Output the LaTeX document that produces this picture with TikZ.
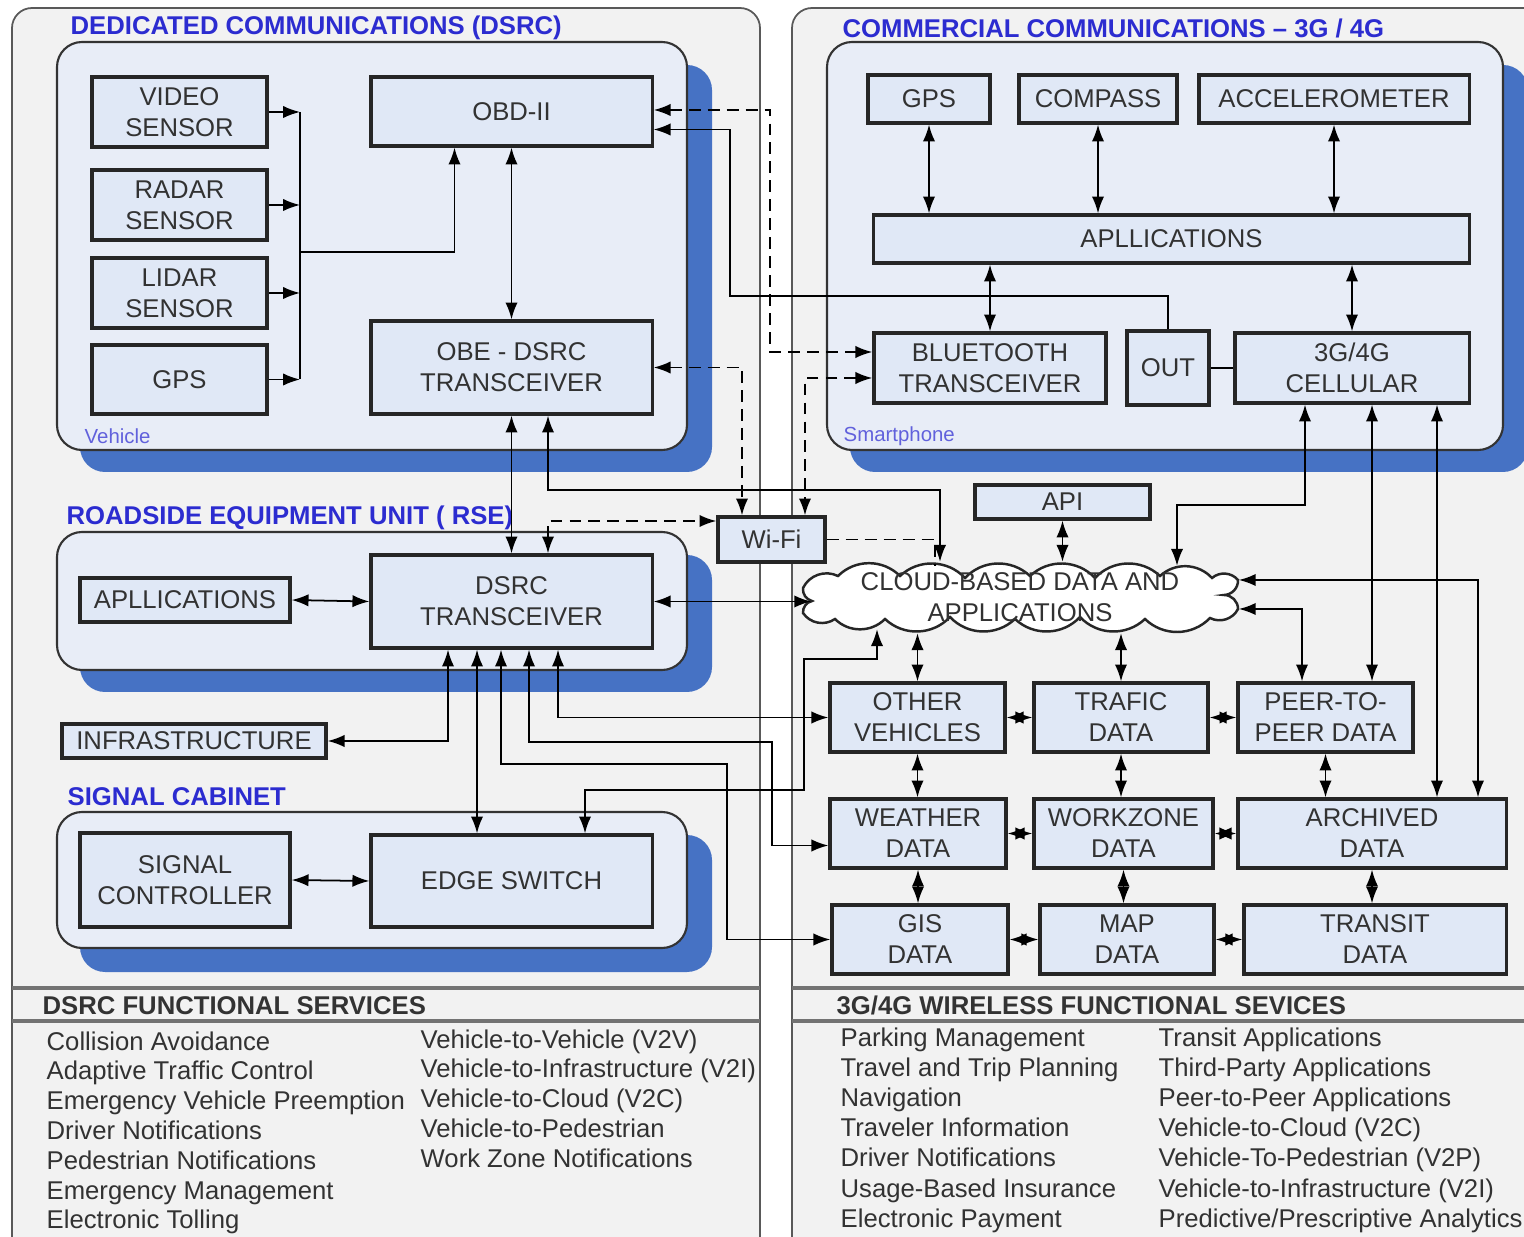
\documentclass[tikz,border=0pt]{standalone}
\usepackage{fontspec}
\setmainfont{Liberation Sans}
\usetikzlibrary{arrows.meta,positioning,calc}

\definecolor{panelgray}{RGB}{242,242,242}
\definecolor{groupblue}{RGB}{232,237,247}
\definecolor{boxblue}{RGB}{224,232,246}
\definecolor{shadowblue}{RGB}{70,114,196}
\definecolor{titleblue}{RGB}{44,44,208}
\definecolor{inkgray}{RGB}{50,50,50}

\tikzset{
  >={Latex[length=4.8pt,width=3.5pt]},
  panel/.style={draw=black!65, fill=panelgray, line width=0.5pt, rounded corners=0.2cm},
  group/.style={draw=black!80, fill=groupblue, line width=0.6pt, rounded corners=0.25cm},
  groupshadow/.style={fill=shadowblue, rounded corners=0.25cm},
  box/.style={draw=black!85, fill=boxblue, line width=0.9pt, align=center, inner sep=0pt,
    text=inkgray, font=\fontsize{7.3}{8.8}\selectfont},
  cloudline/.style={draw=black!85, fill=white, line width=0.7pt},
  grouptitle/.style={anchor=west, inner sep=0pt, text=titleblue, font=\bfseries\fontsize{7.3}{8.8}\selectfont},
  grouptag/.style={anchor=west, inner sep=0pt, text=titleblue!75, font=\fontsize{5.8}{7}\selectfont},
  servicehead/.style={anchor=base west, inner sep=0pt, text=black!80, font=\bfseries\fontsize{7.3}{8.8}\selectfont},
  service/.style={anchor=base west, inner sep=0pt, text=inkgray, font=\fontsize{7.3}{8.8}\selectfont},
  sepline/.style={draw=black!55, line width=1.1pt},
  line/.style={line width=0.5pt},
  feed/.style={line width=0.5pt, ->},
  conn/.style={line width=0.5pt, <->},
  wire/.style={line width=0.55pt, dash pattern=on 3.4pt off 2pt},
}

\begin{document}
\begin{tikzpicture}[x=0.01cm,y=-0.01cm]
  \useasboundingbox (0,0) rectangle (1524,1237);

  % panels
  \draw[panel] (12,8) rectangle (760,1290);
  \draw[panel] (792,8) rectangle (1560,1290);

  % groups
  \fill[groupshadow] (80,65) rectangle (712,472);
  \draw[group] (57,42) rectangle (687,450);
  \fill[groupshadow] (80,555) rectangle (712,692);
  \draw[group] (57,532) rectangle (687,670);
  \fill[groupshadow] (80,835) rectangle (712,972);
  \draw[group] (57,812) rectangle (687,948);
  \fill[groupshadow] (850,65) rectangle (1528,472);
  \draw[group] (827,42) rectangle (1503,450);

  \node[grouptitle] (dsrctitle) at (70,28) {DEDICATED COMMUNICATIONS (DSRC)};
  \node[grouptitle] (celltitle) at (842,28) {COMMERCIAL COMMUNICATIONS – 3G / 4G};
  \node[grouptitle] (rsetitle) at (66,518) {ROADSIDE EQUIPMENT UNIT ( RSE)};
  \node[grouptitle] (cabtitle) at (67,797) {SIGNAL CABINET};
  \node[grouptag] (vehtag) at (84,436) {Vehicle};
  \node[grouptag] (phonetag) at (843,436) {Smartphone};

  % vehicle
  \node[box, minimum width=1.75cm, minimum height=0.7cm] (vidsens) at (179.5,112) {VIDEO\\SENSOR};
  \node[box, minimum width=1.75cm, minimum height=0.7cm] (radsens) at (179.5,205) {RADAR\\SENSOR};
  \node[box, minimum width=1.75cm, minimum height=0.7cm] (lidsens) at (179.5,293) {LIDAR\\SENSOR};
  \node[box, minimum width=1.75cm, minimum height=0.69cm] (gpsveh) at (179.5,379.5) {GPS};
  \node[box, minimum width=2.81cm, minimum height=0.69cm] (obd) at (511.5,111.5) {OBD-II};
  \node[box, minimum width=2.81cm, minimum height=0.93cm] (obe) at (511.5,367.5) {OBE - DSRC\\TRANSCEIVER};

  % roadside unit
  \node[box, minimum width=2.1cm, minimum height=0.44cm] (rseapp) at (185,600) {APLLICATIONS};
  \node[box, minimum width=2.81cm, minimum height=0.93cm] (dsrc) at (511.5,601.5) {DSRC\\TRANSCEIVER};
  \node[box, minimum width=2.64cm, minimum height=0.34cm] (infra) at (194,741) {INFRASTRUCTURE};

  % signal cabinet
  \node[box, minimum width=2.1cm, minimum height=0.94cm] (sigctl) at (185,880) {SIGNAL\\CONTROLLER};
  \node[box, minimum width=2.81cm, minimum height=0.92cm] (edgesw) at (511.5,881) {EDGE SWITCH};

  % smartphone
  \node[box, minimum width=1.22cm, minimum height=0.48cm] (gpsph) at (929,99) {GPS};
  \node[box, minimum width=1.58cm, minimum height=0.48cm] (compass) at (1098,99) {COMPASS};
  \node[box, minimum width=2.7cm, minimum height=0.48cm] (accel) at (1334,99) {ACCELEROMETER};
  \node[box, minimum width=5.95cm, minimum height=0.48cm] (phapp) at (1171.5,239) {APLLICATIONS};
  \node[box, minimum width=2.32cm, minimum height=0.7cm] (bt) at (990,368) {BLUETOOTH\\TRANSCEIVER};
  \node[box, minimum width=0.82cm, minimum height=0.74cm] (out) at (1168,368) {OUT};
  \node[box, minimum width=2.34cm, minimum height=0.7cm] (cell) at (1352,368) {3G/4G\\CELLULAR};

  % cloud side
  \node[box, minimum width=1.07cm, minimum height=0.45cm] (wifi) at (771.5,539.5) {Wi-Fi};
  \node[box, minimum width=1.75cm, minimum height=0.34cm] (api) at (1062.5,502) {API};
  \filldraw[cloudline] (812,601) to[bend left=40] (803,588) to[bend left=45] (838,576)
    to[bend left=45] (900,576) to[bend left=45] (965,578) to[bend left=45] (1030,576)
    to[bend left=45] (1095,578) to[bend left=45] (1160,576) to[bend left=45] (1212,578)
    to[bend left=45] (1238,580) to[bend left=45] (1224,595) to[bend left=45] (1238,609)
    to[bend left=45] (1210,618) to[bend left=45] (1145,619) to[bend left=45] (1080,617)
    to[bend left=45] (1015,619) to[bend left=45] (950,617) to[bend left=45] (885,619)
    to[bend left=45] (835,619) to[bend left=45] (803,613) to[bend left=40] cycle;
  \node[inner sep=0pt, minimum width=4.4cm, minimum height=0.7cm, align=center, text=inkgray,
    font=\fontsize{7.3}{8.8}\selectfont] (cloud) at (1020,597.5) {CLOUD-BASED DATA AND\\APPLICATIONS};

  \node[box, minimum width=1.75cm, minimum height=0.69cm] (othveh) at (917.5,717.5) {OTHER\\VEHICLES};
  \node[box, minimum width=1.74cm, minimum height=0.69cm] (traffic) at (1121,717.5) {TRAFIC\\DATA};
  \node[box, minimum width=1.75cm, minimum height=0.69cm] (peer) at (1325.5,717.5) {PEER-TO-\\PEER DATA};
  \node[box, minimum width=1.76cm, minimum height=0.69cm] (weather) at (918,833.5) {WEATHER\\DATA};
  \node[box, minimum width=1.79cm, minimum height=0.69cm] (workzone) at (1123.5,833.5) {WORKZONE\\DATA};
  \node[box, minimum width=2.68cm, minimum height=0.69cm] (archived) at (1372,833.5) {ARCHIVED\\DATA};
  \node[box, minimum width=1.76cm, minimum height=0.69cm] (gis) at (920,939.5) {GIS\\DATA};
  \node[box, minimum width=1.74cm, minimum height=0.69cm] (map) at (1127,939.5) {MAP\\DATA};
  \node[box, minimum width=2.62cm, minimum height=0.69cm] (transit) at (1375,939.5) {TRANSIT\\DATA};

  % vehicle connectors
  \coordinate (bus) at (300,252);
  \foreach \s in {vidsens,radsens,lidsens,gpsveh}
    \draw[feed] (\s.east) -- (\s.east -| bus);
  \draw[line] (vidsens.east -| bus) -- (gpsveh.east -| bus);
  \draw[feed] (bus) -| ($(obd.south)+(-57,0)$);
  \draw[conn] (obd.south) -- (obe.north);
  \coordinate (outbend) at (730,296);
  \draw[feed] (out.north) |- (outbend) |- ($(obd.east)+(0,18)$);

  % wireless links
  \coordinate (btbend) at (770,110);
  \draw[wire,<->] ($(obd.east)+(0,-1.5)$) -- (btbend) |- ($(bt.west)+(0,-16)$);
  \draw[wire,<->] (obe.east) -| ($(wifi.north)+(-29.5,0)$);
  \draw[wire,<->] ($(bt.west)+(0,10)$) -| ($(wifi.north)+(33.5,0)$);
  \draw[wire,<->] ($(dsrc.north)+(36.5,0)$) |- ($(wifi.west)+(0,-18.5)$);
  \draw[wire] (wifi.east) -| ($(wifi.east |- cloud.north)+(108.5,4)$);

  % roadside connectors
  \draw[conn] (obe.south) -- (dsrc.north);
  \coordinate (obebend) at (940,490);
  \draw[conn] ($(obe.south)+(36.5,0)$) |- (obebend) -- (obebend |- cloud.north);
  \draw[conn] (rseapp.east) -- (dsrc.west);
  \draw[conn] (dsrc.east) -- ($(dsrc.east -| cloud.west)+(12,0)$);
  \draw[conn] ($(dsrc.south)+(-63.5,0)$) |- (infra.east);
  \draw[conn] ($(dsrc.south)+(-34.5,0)$) -- ($(edgesw.north)+(-34.5,0)$);
  \coordinate (gisbend) at (727,764);
  \draw[conn] ($(dsrc.south)+(-10.5,0)$) |- (gisbend) |- (gis.west);
  \coordinate (wxbend) at (772,742);
  \draw[conn] ($(dsrc.south)+(17.5,0)$) |- (wxbend) |- ($(weather.west)+(0,12)$);
  \draw[conn] ($(dsrc.south)+(46.5,0)$) |- (othveh.west);
  \draw[conn] (sigctl.east) -- (edgesw.west);
  \coordinate (swbend) at (804,790);
  \coordinate (swrise) at (877,659);
  \draw[conn] ($(edgesw.north)+(73.5,0)$) |- (swbend) |- (swrise) -- ($(swrise |- cloud.south)+(0,-4)$);

  % smartphone connectors
  \draw[conn] (gpsph.south) -- (gpsph.south |- phapp.north);
  \draw[conn] (compass.south) -- (compass.south |- phapp.north);
  \draw[conn] (accel.south) -- (accel.south |- phapp.north);
  \draw[conn] (bt.north) -- (bt.north |- phapp.south);
  \draw[conn] (cell.north) -- (cell.north |- phapp.south);
  \draw[line] (out.east) -- (cell.west);
  \coordinate (cellbend) at (1177,505);
  \draw[conn] ($(cell.south)+(-47,0)$) |- (cellbend) -- ($(cellbend |- cloud.north)+(0,4)$);
  \draw[conn] ($(cell.south)+(20,0)$) -- ($(cell.south |- peer.north)+(20,0)$);
  \draw[conn] ($(cell.south)+(85,0)$) -- ($(cell.south |- archived.north)+(85,0)$);

  % cloud connectors
  \draw[conn] (api.south) -- (api.south |- cloud.north);
  \draw[conn] ($(cloud.east)+(-2,-17.5)$) -| ($(archived.north)+(106,0)$);
  \draw[conn] ($(cloud.east)+(-2,11.5)$) -| ($(peer.north)+(-23.5,0)$);
  \draw[conn] (othveh.north) -- (othveh.north |- cloud.south);
  \draw[conn] (traffic.north) -- (traffic.north |- cloud.south);

  % data grid
  \draw[conn] (othveh.east) -- (traffic.west);
  \draw[conn] (traffic.east) -- (peer.west);
  \draw[conn] (othveh.south) -- (othveh.south |- weather.north);
  \draw[conn] (traffic.south) -- (traffic.south |- workzone.north);
  \draw[conn] (peer.south) -- (peer.south |- archived.north);
  \draw[conn] (weather.east) -- (workzone.west);
  \draw[conn] (workzone.east) -- (archived.west);
  \draw[conn] (weather.south) -- (weather.south |- gis.north);
  \draw[conn] (workzone.south) -- (workzone.south |- map.north);
  \draw[conn] (archived.south) -- (archived.south |- transit.north);
  \draw[conn] (gis.east) -- (map.west);
  \draw[conn] (map.east) -- (transit.west);

  % services
  \draw[sepline] (12,988) -- (760,988);
  \draw[sepline] (12,1021) -- (760,1021);
  \draw[sepline] (792,988) -- (1524,988);
  \draw[sepline] (792,1021) -- (1524,1021);
  \node[servicehead] (dsrchead) at (42,1014) {DSRC FUNCTIONAL SERVICES};
  \node[servicehead] (cellhead) at (836,1014) {3G/4G WIRELESS FUNCTIONAL SEVICES};
  \foreach \t [count=\i from 0] in {Collision Avoidance, Adaptive Traffic Control,
      Emergency Vehicle Preemption, Driver Notifications, Pedestrian Notifications,
      Emergency Management, Electronic Tolling}
    \node[service] (dsrcsvc\i) at (46,{1050+29.8*\i}) {\t};
  \foreach \t [count=\i from 0] in {Vehicle-to-Vehicle (V2V), Vehicle-to-Infrastructure (V2I),
      Vehicle-to-Cloud (V2C), Vehicle-to-Pedestrian, Work Zone Notifications}
    \node[service] (dsrclink\i) at (420,{1048+29.8*\i}) {\t};
  \foreach \t [count=\i from 0] in {Parking Management, Travel and Trip Planning, Navigation,
      Traveler Information, Driver Notifications, Usage-Based Insurance, Electronic Payment}
    \node[service] (cellsvc\i) at (840,{1046+30.2*\i}) {\t};
  \foreach \t [count=\i from 0] in {Transit Applications, Third-Party Applications,
      Peer-to-Peer Applications, Vehicle-to-Cloud (V2C), Vehicle-To-Pedestrian (V2P),
      Vehicle-to-Infrastructure (V2I), Predictive/Prescriptive Analytics}
    \node[service] (celllink\i) at (1158,{1046+30.2*\i}) {\t};
\end{tikzpicture}
\end{document}
